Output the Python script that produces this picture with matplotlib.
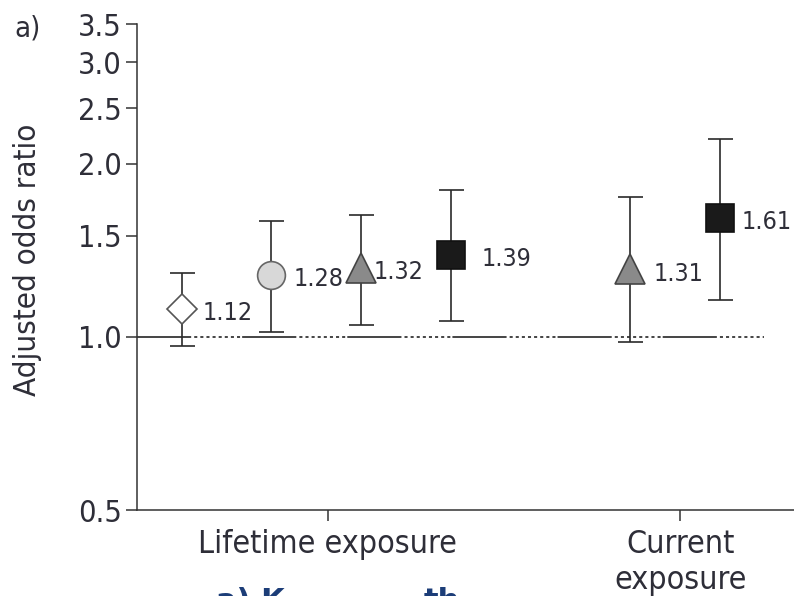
import numpy as np
import matplotlib
matplotlib.use("Agg")
import matplotlib.pyplot as plt
from matplotlib import font_manager
from matplotlib.ticker import FixedLocator, NullLocator, FixedFormatter

# data
x_pos = [1, 2, 3, 4, 6, 7]
odds = [1.12, 1.28, 1.32, 1.39, 1.31, 1.61]
ci_low = [0.965, 1.02, 1.05, 1.065, 0.98, 1.16]
ci_high = [1.29, 1.59, 1.63, 1.80, 1.75, 2.21]
labels = ["1.12", "1.28", "1.32", "1.39", "1.31", "1.61"]
markers = ["D", "o", "^", "s", "^", "s"]
face = ["white", "#d8d8d8", "#8a8a8a", "#1a1a1a", "#8a8a8a", "#1a1a1a"]
edge = ["#555555", "#666666", "#444444", "#111111", "#444444", "#111111"]
msize = [15, 20, 21, 20, 21, 20]
label_dx = [15, 16, 9, 22, 17, 16]

group_labels = ["Lifetime exposure", "Current\nexposure"]
group_pos = [2.63, 6.56]
y_ticks = [0.5, 1.0, 1.5, 2.0, 2.5, 3.0, 3.5]

# pick a narrow face if one is installed
names = {f.name: f for f in font_manager.fontManager.ttflist}
stretch = "normal"
if "Liberation Sans Narrow" in names:
    fam = "Liberation Sans Narrow"
elif any(f.name == "DejaVu Sans" and f.stretch == "condensed"
         for f in font_manager.fontManager.ttflist):
    fam = "DejaVu Sans"
    stretch = "condensed"
else:
    fam = "Roboto"
plt.rcParams['font.family'] = [fam, 'DejaVu Sans']
plt.rcParams['font.stretch'] = stretch
plt.rcParams['lines.scale_dashes'] = False
txt_col = "#2e2e38"

fig = plt.figure(figsize=(7.94, 5.96), dpi=100)
ax = fig.add_axes([137 / 794, 1 - 510 / 596, (794 - 137) / 794, (510 - 24) / 596])

ax.set_yscale("log")
ax.set_ylim(0.5, 3.5)
ax.set_xlim(0.5, 7.83)
ax.yaxis.set_major_locator(FixedLocator(y_ticks))
ax.yaxis.set_major_formatter(FixedFormatter(["%.1f" % v for v in y_ticks]))
ax.yaxis.set_minor_locator(NullLocator())
ax.set_xticks(group_pos)
ax.set_xticklabels(group_labels)

for s in ["top", "right"]:
    ax.spines[s].set_visible(False)
for s in ["left", "bottom"]:
    ax.spines[s].set_color("#333333")
    ax.spines[s].set_linewidth(1.1)

ax.tick_params(axis="y", length=8, width=1.1, color="#333333", pad=3,
               labelsize=22, labelcolor=txt_col)
ax.tick_params(axis="x", length=8, width=1.1, color="#333333", pad=6,
               labelsize=23, labelcolor=txt_col)
ax.set_ylabel("Adjusted odds ratio", fontsize=22.5, color=txt_col)
ax.yaxis.set_label_coords((42 - 137) / 657, (510 - 260) / 486)

# reference line at 1.0: solid pieces alternating with dotted pieces
dash = [39, 2.2] + [2.2, 2.2] * 7 + [2.2, 1.5]
ax.plot([0.5, 7.5], [1.0, 1.0], color="#444444", lw=1.4,
        linestyle=(0, dash), zorder=1)

for i in range(len(x_pos)):
    lo = odds[i] - ci_low[i]
    hi = ci_high[i] - odds[i]
    ax.errorbar(x_pos[i], odds[i], yerr=[[lo], [hi]], fmt="none",
                ecolor="#2a2a2a", elinewidth=1.2, capsize=9, capthick=1.2,
                zorder=2)
    ax.plot(x_pos[i], odds[i], marker=markers[i], markersize=msize[i],
            markerfacecolor=face[i], markeredgecolor=edge[i],
            markeredgewidth=1.2, linestyle="none", zorder=3)
    ax.annotate(labels[i], (x_pos[i], odds[i]), xytext=(label_dx[i], -3),
                textcoords="offset points", ha="left", va="center",
                fontsize=18, color=txt_col, zorder=4)

fig.text(14 / 794, 1 - 14 / 596, "a)", ha="left", va="top",
         fontsize=21, color=txt_col)

# cropped caption at the very bottom of the picture
fig.text(216 / 794, 1 - 610 / 596, "a) K", ha="left", va="baseline",
         fontsize=22, fontweight="bold", color="#1c3d78",
         family="DejaVu Sans", stretch="normal")
fig.text(424 / 794, 1 - 610 / 596, "th", ha="left", va="baseline",
         fontsize=22, fontweight="bold", color="#1c3d78",
         family="DejaVu Sans", stretch="normal")

fig.savefig("out.png", dpi=100)
